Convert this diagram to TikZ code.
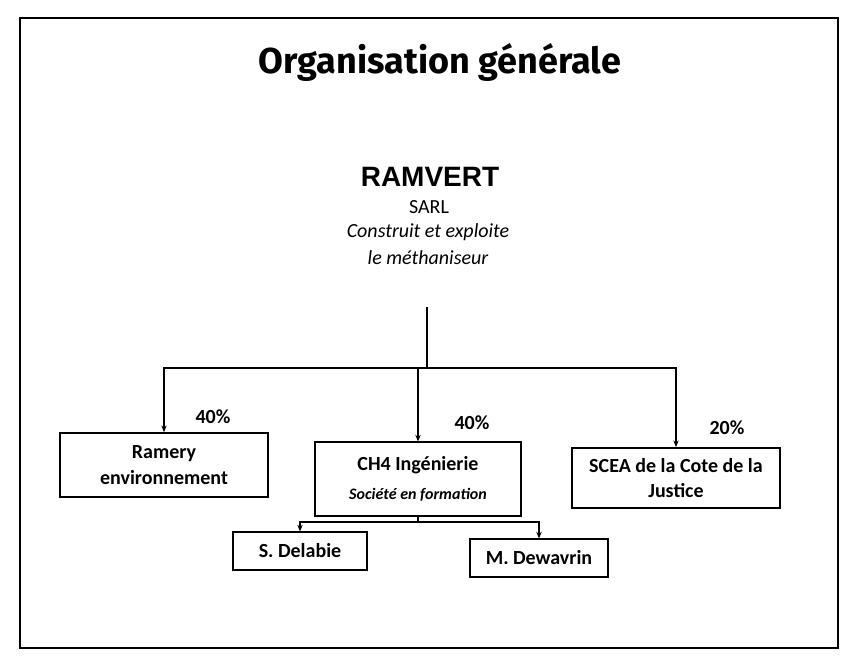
\documentclass[tikz,border=0pt]{standalone}
\usepackage{fontspec}
\setmainfont{Carlito}
\newfontfamily\titlefont{Fira Sans}
\newfontfamily\headfont{Liberation Sans}
\usetikzlibrary{arrows.meta}

\tikzset{
  orgbox/.style={draw,line width=1.3pt,align=center,inner sep=0pt,
    font=\bfseries\fontsize{15}{19}\selectfont},
  share/.style={font=\bfseries\fontsize{15}{17}\selectfont},
  link/.style={line width=1.2pt},
  linkarrow/.style={link,-{Stealth[length=5pt,width=4pt]}}
}

\begin{document}
\begin{tikzpicture}[x=0.75pt,y=-0.75pt]

  \useasboundingbox (0,0) rectangle (849,660);

  % cadre
  \draw[line width=2pt] (20,18) rectangle (838,648);

  % titre
  \node (titre) at (440,62)
    {\titlefont\bfseries\fontsize{27}{30}\selectfont Organisation générale};

  % société de tête
  \node (ramvert) at (430,177)
    {\headfont\bfseries\fontsize{21}{24}\selectfont RAMVERT};
  \node (sarl) at (429,207) {\fontsize{15}{17}\selectfont SARL};
  \node[align=center,font=\itshape\fontsize{15}{20}\selectfont] (role)
    at (428,244) {Construit et exploite\\le méthaniseur};

  % associés
  \node[orgbox,minimum width=156pt,minimum height=48pt] (ramery)
    at (164,465) {Ramery\\environnement};
  \node[orgbox,minimum width=155pt,minimum height=55pt] (ch4)
    at (418,479)
    {CH4 Ingénierie\\[3pt]
     {\itshape\fontsize{12}{14}\selectfont Société en formation}};
  \node[orgbox,minimum width=156pt,minimum height=45pt] (scea)
    at (676,478) {SCEA de la Cote de la\\Justice};

  % personnes
  \node[orgbox,minimum width=100pt,minimum height=28pt] (delabie)
    at (300,551) {S. Delabie};
  \node[orgbox,minimum width=104pt,minimum height=28pt] (dewavrin)
    at (539,558) {M. Dewavrin};

  % répartition du capital
  \coordinate (haut)  at (427,307);
  \coordinate (barre) at (427,368);
  \draw[link] (haut) -- (barre);
  \draw[linkarrow] (barre) -| (ramery.north);
  \draw[linkarrow] (barre) -| (ch4.north);
  \draw[linkarrow] (barre) -| (scea.north);

  \node[share] (pa) at (213,417) {40\%};
  \node[share] (pb) at (472,423) {40\%};
  \node[share] (pc) at (727,428) {20\%};

  % associés de CH4
  \coordinate (sous) at (418,522);
  \draw[link] (ch4.south) -- (sous);
  \draw[linkarrow] (sous) -| (delabie.north);
  \draw[linkarrow] (sous) -| (dewavrin.north);

\end{tikzpicture}
\end{document}
